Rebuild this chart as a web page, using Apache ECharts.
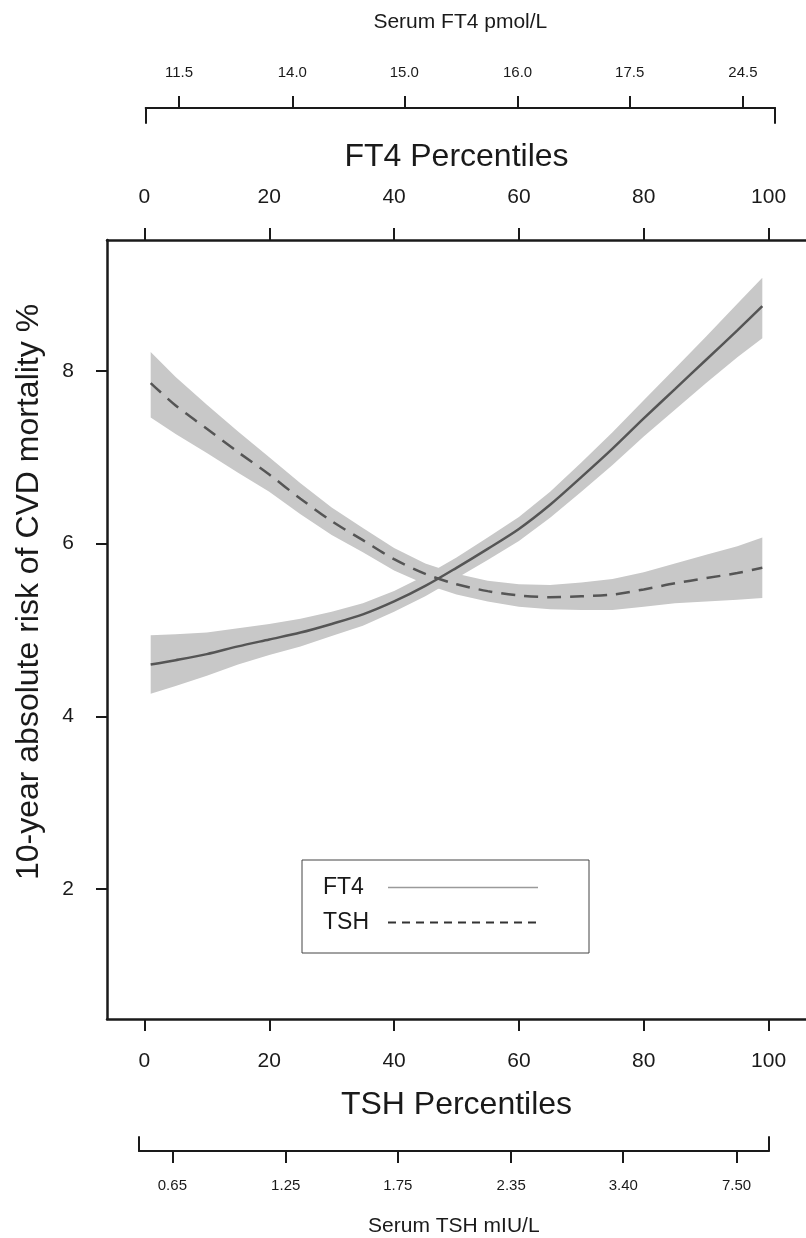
<!DOCTYPE html>
<html>
<head>
<meta charset="utf-8">
<script src="https://cdn.jsdelivr.net/npm/echarts/dist/echarts.min.js"></script>
<style>
  html, body { margin: 0; padding: 0; background: #fff; }
  #chart { width: 806px; height: 1238px; }
</style>
</head>
<body>
<div id="chart"></div>
<script>
// percentiles at which the curves were read
var percentiles = [1, 5, 10, 15, 20, 25, 30, 35, 40, 45, 50, 55, 60, 65, 70, 75, 80, 85, 90, 95, 99];

// FT4 curve and its confidence band
var ft4Mean  = [4.60, 4.65, 4.72, 4.81, 4.89, 4.97, 5.07, 5.18, 5.33, 5.51, 5.72, 5.94, 6.17, 6.45, 6.77, 7.10, 7.45, 7.79, 8.13, 8.47, 8.75];
var ft4Lower = [4.26, 4.35, 4.47, 4.60, 4.71, 4.81, 4.93, 5.05, 5.21, 5.39, 5.60, 5.81, 6.03, 6.30, 6.60, 6.91, 7.24, 7.55, 7.86, 8.16, 8.38];
var ft4Upper = [4.94, 4.95, 4.97, 5.02, 5.07, 5.13, 5.21, 5.31, 5.45, 5.63, 5.84, 6.07, 6.31, 6.60, 6.94, 7.29, 7.66, 8.03, 8.40, 8.78, 9.08];

// TSH curve and its confidence band
var tshMean  = [7.86, 7.60, 7.33, 7.06, 6.80, 6.52, 6.26, 6.04, 5.82, 5.65, 5.53, 5.45, 5.40, 5.38, 5.39, 5.41, 5.47, 5.54, 5.60, 5.66, 5.72];
var tshLower = [7.46, 7.27, 7.05, 6.82, 6.60, 6.34, 6.10, 5.90, 5.69, 5.53, 5.41, 5.33, 5.27, 5.24, 5.23, 5.23, 5.27, 5.31, 5.33, 5.35, 5.37];
var tshUpper = [8.22, 7.93, 7.61, 7.30, 7.00, 6.70, 6.42, 6.18, 5.95, 5.77, 5.65, 5.57, 5.53, 5.52, 5.55, 5.59, 5.67, 5.77, 5.87, 5.97, 6.07];

// axis ticks
var percentileTicks = [0, 20, 40, 60, 80, 100];
var yTicks = [2, 4, 6, 8];
var bracketTicks = [5.3, 23.3, 41.1, 59.1, 76.9, 94.9];
var ft4Labels = ['11.5', '14.0', '15.0', '16.0', '17.5', '24.5'];
var tshLabels = ['0.65', '1.25', '1.75', '2.35', '3.40', '7.50'];

var FONT = '"Liberation Sans", Arial, Helvetica, sans-serif';
var INK = '#1a1a1a';
var BAND = '#c8c8c8';
var CURVE = '#555555';

function pairs(xs, ys) {
    var out = [];
    for (var i = 0; i < xs.length; ++i) {
        out.push([xs[i], ys[i]]);
    }
    return out;
}

// confidence band drawn as one polygon through the axis scales
function bandSeries(name, lo, hi) {
    return {
        name: name + ' band',
        type: 'custom',
        silent: true,
        clip: true,
        z: 1,
        data: [[percentiles[0], lo[0]]],
        renderItem: function (params, api) {
            var pts = [];
            var i;
            for (i = 0; i < percentiles.length; ++i) {
                pts.push(api.coord([percentiles[i], lo[i]]));
            }
            for (i = percentiles.length - 1; i >= 0; --i) {
                pts.push(api.coord([percentiles[i], hi[i]]));
            }
            return {
                type: 'polygon',
                shape: { points: pts },
                style: { fill: BAND, stroke: null }
            };
        }
    };
}

function mainXAxis(pos, name, gap) {
    return {
        type: 'value',
        gridIndex: 0,
        position: pos,
        min: -6,
        max: 106,
        name: name,
        nameLocation: 'middle',
        nameGap: gap,
        nameTextStyle: { fontFamily: FONT, fontSize: 32, color: INK },
        axisLine: { show: true, onZero: false, lineStyle: { color: INK, width: 2.5 } },
        axisTick: { show: true, length: 12, customValues: percentileTicks, lineStyle: { color: INK, width: 2 } },
        axisLabel: { customValues: percentileTicks, margin: 32, fontFamily: FONT, fontSize: 21, color: INK },
        splitLine: { show: false }
    };
}

function bracketXAxis(grid, pos, labels, name, gap, margin) {
    return {
        type: 'value',
        gridIndex: grid,
        position: pos,
        min: 0,
        max: 100,
        name: name,
        nameLocation: 'middle',
        nameGap: gap,
        nameTextStyle: { fontFamily: FONT, fontSize: 21, color: INK },
        axisLine: { show: true, onZero: false, lineStyle: { color: INK, width: 2 } },
        axisTick: { show: true, length: 12, customValues: bracketTicks, lineStyle: { color: INK, width: 2 } },
        axisLabel: {
            customValues: bracketTicks,
            margin: margin,
            fontFamily: FONT,
            fontSize: 15,
            color: INK,
            formatter: function (v) {
                var i = bracketTicks.indexOf(v);
                return i < 0 ? '' : labels[i];
            }
        },
        splitLine: { show: false }
    };
}

function capYAxis(grid, pos) {
    return {
        type: 'value',
        gridIndex: grid,
        position: pos,
        min: 0,
        max: 1,
        axisLine: { show: true, onZero: false, lineStyle: { color: INK, width: 2 } },
        axisTick: { show: false },
        axisLabel: { show: false },
        splitLine: { show: false }
    };
}

var chart = echarts.init(document.getElementById('chart'), null, { renderer: 'canvas' });

var series = [];
series.push(bandSeries('FT4', ft4Lower, ft4Upper));
series.push(bandSeries('TSH', tshLower, tshUpper));
series.push({
    name: 'FT4',
    type: 'line',
    data: pairs(percentiles, ft4Mean),
    symbol: 'none',
    smooth: 0.3,
    lineStyle: { color: CURVE, width: 2.5, type: 'solid' },
    itemStyle: { color: CURVE },
    z: 3
});
series.push({
    name: 'TSH',
    type: 'line',
    data: pairs(percentiles, tshMean),
    symbol: 'none',
    smooth: 0.3,
    lineStyle: { color: CURVE, width: 2.5, type: [14, 9] },
    itemStyle: { color: CURVE },
    z: 3
});

var option = {
    backgroundColor: '#ffffff',
    animation: false,
    textStyle: { fontFamily: FONT },
    grid: [
        { left: 107, right: -4, top: 240, bottom: 219, containLabel: false },
        { left: 145.7, right: 31, top: 108, height: 15, containLabel: false },
        { left: 139, right: 37.3, top: 1137, height: 14, containLabel: false }
    ],
    xAxis: [
        mainXAxis('bottom', 'TSH Percentiles', 70),
        mainXAxis('top', 'FT4 Percentiles', 67),
        bracketXAxis(1, 'top', ft4Labels, 'Serum FT4 pmol/L', 75, 28),
        bracketXAxis(2, 'bottom', tshLabels, 'Serum TSH mIU/L', 65, 27)
    ],
    yAxis: [
        {
            type: 'value',
            gridIndex: 0,
            position: 'left',
            min: 0.494,
            max: 9.517,
            axisLine: { show: true, onZero: false, lineStyle: { color: INK, width: 2.5 } },
            axisTick: { show: true, length: 11, customValues: yTicks, lineStyle: { color: INK, width: 2 } },
            axisLabel: { customValues: yTicks, margin: 33, fontFamily: FONT, fontSize: 21, color: INK },
            splitLine: { show: false }
        },
        capYAxis(1, 'left'),
        capYAxis(1, 'right'),
        capYAxis(2, 'left'),
        capYAxis(2, 'right')
    ],
    legend: {
        orient: 'vertical',
        left: 302,
        top: 860,
        align: 'right',
        padding: [16, 50, 19, 21],
        itemGap: 12,
        itemWidth: 150,
        itemHeight: 14,
        borderColor: '#444',
        borderWidth: 1,
        borderRadius: 0,
        backgroundColor: '#ffffff',
        selectedMode: false,
        formatter: '{n|{name}}',
        textStyle: {
            fontFamily: FONT,
            fontSize: 23,
            color: INK,
            rich: { n: { width: 60, fontFamily: FONT, fontSize: 23, color: INK, align: 'left' } }
        },
        data: [
            { name: 'FT4', itemStyle: { opacity: 0 }, lineStyle: { color: '#9a9a9a', width: 1.5, type: 'solid' } },
            { name: 'TSH', itemStyle: { opacity: 0 }, lineStyle: { color: '#333333', width: 2, type: [8, 6] } }
        ]
    },
    graphic: [
        {
            type: 'text',
            x: 29,
            y: 592,
            rotation: Math.PI / 2,
            style: {
                text: '10-year absolute risk of CVD mortality %',
                font: '32px ' + FONT,
                fill: INK,
                textAlign: 'center',
                textVerticalAlign: 'middle'
            }
        }
    ],
    series: series
};

chart.setOption(option);
</script>
</body>
</html>
